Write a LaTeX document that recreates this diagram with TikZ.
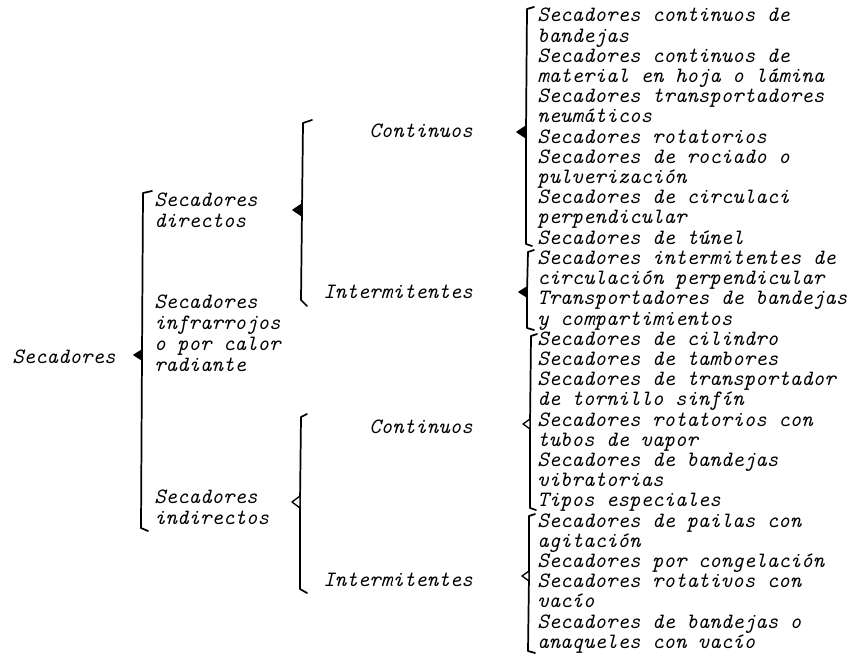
\documentclass[tikz,border=0pt]{standalone}
\usepackage{tikz}
\usetikzlibrary{calc}
\tikzset{
  txt/.style={anchor=base west, inner sep=0pt, font=\fontsize{16.4}{20}\selectfont\ttfamily\itshape},
  txtr/.style={txt, anchor=base east},
  brace/.style={line width=1.3pt, line join=round, line cap=round},
  tipfull/.style={line width=1pt, line join=round, fill=black},
  tipopen/.style={line width=1pt, line join=round, fill=white},
}
\begin{document}
\begin{tikzpicture}[x=0.75pt,y=0.75pt,yscale=-1,xscale=1]
\useasboundingbox (0,0) rectangle (856,659);

% Text Node
\node[txt] (sec) at (12,363) {Secadores};
% Text Node
\node[txt] (dir1) at (154,207) {Secadores};
\node[txt] (dir2) at (154,228) {directos};
% Text Node
\node[txt] (inf1) at (154,308) {Secadores};
\node[txt] (inf2) at (154,329) {infrarrojos};
\node[txt] (inf3) at (154,350) {o por calor};
\node[txt] (inf4) at (154,371) {radiante};
% Text Node
\node[txt] (ind1) at (154,503) {Secadores};
\node[txt] (ind2) at (154,524) {indirectos};
% Text Node
\node[txtr] (dcont) at (473,138) {Continuos};
\node[txtr] (dint) at (473,298) {Intermitentes};
\node[txtr] (icont) at (473,433) {Continuos};
\node[txtr] (iint) at (473,586) {Intermitentes};

% Lists
\foreach \t [count=\i] in {Secadores continuos de, bandejas, Secadores continuos de,
  material en hoja o lámina, Secadores transportadores, neumáticos,
  Secadores rotatorios, Secadores de rociado o, pulverización,
  Secadores de circulaci, perpendicular, Secadores de túnel}
  \node[txt, name=sd\i] at (537,{22+(\i-1)*20.2}) {\t};
\foreach \t [count=\i from 13] in {Secadores intermitentes de, circulación perpendicular,
  Transportadores de bandejas, y compartimientos}
  \node[txt, name=sd\i] at (537,{22+(\i-1)*20.2}) {\t};
\foreach \t [count=\i from 17] in {Secadores de cilindro, Secadores de tambores,
  Secadores de transportador, de tornillo sinfín, Secadores rotatorios con,
  tubos de vapor, Secadores de bandejas, vibratorias, Tipos especiales}
  \node[txt, name=sd\i] at (537,{22+(\i-1)*20.2}) {\t};
\foreach \t [count=\i from 26] in {Secadores de pailas con, agitación,
  Secadores por congelación, Secadores rotativos con, vacío,
  Secadores de bandejas o, anaqueles con vacío}
  \node[txt, name=sd\i] at (537,{22+(\i-1)*20.2}) {\t};

% Tips
\coordinate (pR) at (142,355);
\coordinate (pD) at (302,210);
\coordinate (pI) at (300,502);
\coordinate (pA) at (526,132);
\coordinate (pB) at (527,292);
\coordinate (pC) at (530,424);
\coordinate (pE) at (529,576);

% Brackets
\draw[brace] (152,191) -- (143,193) -- (pR) -- (141,528) -- (148,531);
\draw[brace] (312,120) -- (303,123) -- (pD) -- (301,300) -- (307,306);
\draw[brace] (307,414) -- (301,417) -- (pI) -- (300,589) -- (307,593);
\draw[brace] (534,7) -- (527,9) -- (pA) -- (526,244) -- (532,246);
\draw[brace] (534,250) -- (528,252) -- (pB) -- (527,328) -- (534,330);
\draw[brace] (537,334) -- (531,336) -- (pC) -- (530,508) -- (536,510);
\draw[brace] (535,514) -- (529,516) -- (pE) -- (528,651) -- (535,653);

% Pointers
\draw[tipfull, shift={(pR)}] (0,-5) -- (-8,0) -- (0,5) -- cycle;
\draw[tipfull, shift={(pD)}] (0,-6) -- (-9,0) -- (0,6) -- cycle;
\draw[tipopen, shift={(pI)}] (0,-6) -- (-8,0) -- (0,6) -- cycle;
\draw[tipfull, shift={(pA)}] (0,-6) -- (-9,0) -- (0,6) -- cycle;
\draw[tipfull, shift={(pB)}] (0,-5) -- (-8,0) -- (0,5) -- cycle;
\draw[tipopen, shift={(pC)}] (0,-5) -- (-7,0) -- (0,5) -- cycle;
\draw[tipopen, shift={(pE)}] (0,-5) -- (-7,0) -- (0,5) -- cycle;

\end{tikzpicture}
\end{document}
